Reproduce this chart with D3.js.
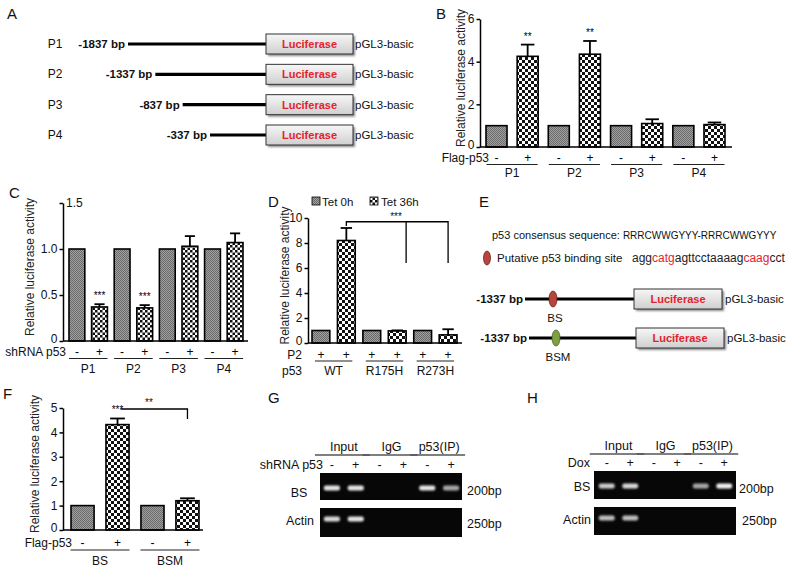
<!DOCTYPE html>
<html><head><meta charset="utf-8">
<script src="https://cdn.jsdelivr.net/npm/d3@7"></script>
<style>body{margin:0;background:#fff} svg{font-family:"Liberation Sans",Arial,Helvetica,sans-serif;display:block}</style>
</head><body><svg id="c" width="800" height="568"></svg>
<script>
// ---------------- DATA ----------------
const constructs = ["P1","P2","P3","P4"];
const constructStarts = ["-1837 bp","-1337 bp","-837 bp","-337 bp"];
const bTicks = [0,2,4,6];
const bMinus = [1,1,1,1];
const bPlus = [4.25,4.35,1.1,1.05];
const bPlusErr = [0.55,0.62,0.2,0.1];
const bSig = ["**","**","",""];
const cTicks = [0,0.5,1.0,1.5];
const cMinus = [1,1,1,1];
const cPlus = [0.37,0.36,1.03,1.07];
const cPlusErr = [0.03,0.03,0.11,0.1];
const cSig = ["***","***","",""];
const dGroups = ["WT","R175H","R273H"];
const dTicks = [0,2,4,6,8,10];
const d0h = [1,1,1];
const d36h = [8.2,0.97,0.65];
const d36Err = [1.0,0.04,0.45];
const dBracket = [9.7,6.4];      // bracket level, drop level
const fGroups = ["BS","BSM"];
const fTicks = [0,1,2,3,4,5];
const fMinus = [1,1];
const fPlus = [4.32,1.2];
const fPlusErr = [0.25,0.1];
const fBracket = [4.96,4.55];
const gelGroups = ["Input","IgG","p53(IP)"];
const gelSigns = ["-","+","-","+","-","+"];
const gBS = [0.9,0.9,0,0,0.9,0.65];
const gActin = [0.85,0.9,0,0,0,0];
const hBS = [0.8,0.85,0,0,0.65,0.95];
const hActin = [0.75,0.75,0,0,0,0];

// ---------------- SETUP ----------------
const svg = d3.select("#c");
const defs = svg.append("defs");
const pg = defs.append("pattern").attr("id","gray").attr("width",2).attr("height",2).attr("patternUnits","userSpaceOnUse");
pg.append("rect").attr("width",2).attr("height",2).attr("fill","#a0a0a0");
pg.append("rect").attr("width",1).attr("height",1).attr("fill","#6a6a6a");
pg.append("rect").attr("x",1).attr("y",1).attr("width",1).attr("height",1).attr("fill","#6a6a6a");
function checker(id,s){
  const p = defs.append("pattern").attr("id",id).attr("width",2*s).attr("height",2*s).attr("patternUnits","userSpaceOnUse");
  p.append("rect").attr("width",2*s).attr("height",2*s).attr("fill","#fff");
  p.append("rect").attr("width",s).attr("height",s).attr("fill","#111");
  p.append("rect").attr("x",s).attr("y",s).attr("width",s).attr("height",s).attr("fill","#111");
}
checker("chk",3); checker("chk2",2.5);
const lg = defs.append("linearGradient").attr("id","boxg").attr("x1",0).attr("y1",0).attr("x2",0).attr("y2",1);
lg.append("stop").attr("offset","0%").attr("stop-color","#f7f7f7");
lg.append("stop").attr("offset","100%").attr("stop-color","#cfcfcf");
const blur = defs.append("filter").attr("id","blur").attr("x","-50%").attr("y","-100%").attr("width","200%").attr("height","300%");
blur.append("feGaussianBlur").attr("stdDeviation",1.1);
const sh = defs.append("filter").attr("id","shadow").attr("x","-10%").attr("y","-30%").attr("width","130%").attr("height","180%");
sh.append("feGaussianBlur").attr("stdDeviation",1.2);

function txt(x,y,s,o={}){
  const t = svg.append("text").attr("x",x).attr("y",y).text(s)
    .attr("font-size",o.size||12).attr("text-anchor",o.anchor||"start").attr("fill",o.fill||"#111");
  if(o.weight) t.attr("font-weight",o.weight);
  return t;
}
function panelLetter(x,y,s){ txt(x,y,s,{size:15}); }

// ---------------- PANEL A ----------------
panelLetter(7,19,"A");
const aRow = d3.scalePoint().domain(constructs).range([44,135]);
const aStart = d3.scalePoint().domain(constructs).range([128,210]);
const boxX0 = 266, boxW = 87, boxH = 20;
constructs.forEach((c,i)=>{
  const y = aRow(c);
  txt(55,y+4,c,{size:12,anchor:"middle"});
  txt(aStart(c)-3,y+4,constructStarts[i],{size:11.5,anchor:"end",weight:"bold"});
  svg.append("line").attr("x1",aStart(c)).attr("x2",boxX0).attr("y1",y).attr("y2",y).attr("stroke","#000").attr("stroke-width",3.2);
  svg.append("rect").attr("x",boxX0+2).attr("y",y-boxH/2+2).attr("width",boxW).attr("height",boxH).attr("fill","#888").attr("filter","url(#shadow)");
  svg.append("rect").attr("x",boxX0).attr("y",y-boxH/2).attr("width",boxW).attr("height",boxH).attr("fill","url(#boxg)").attr("stroke","#333").attr("stroke-width",1);
  txt(boxX0+boxW/2,y+4,"Luciferase",{size:11,anchor:"middle",weight:"bold",fill:"#e3232c"});
  txt(boxX0+boxW+2,y+4,"pGL3-basic",{size:11.5});
});

// ---------------- BAR CHART HELPER ----------------
function barChart(o){
  const g = svg.append("g");
  const y = d3.scaleLinear().domain([0,o.max]).range([o.y0,o.y1]);
  const bars = [];
  o.groups.forEach((gr,i)=>{
    bars.push({key:gr+"-",grp:gr,v:o.minus[i],err:0,sig:"",fill:"url(#gray)",sign:o.signA});
    bars.push({key:gr+"+",grp:gr,v:o.plus[i],err:o.plusErr[i],sig:o.sig?o.sig[i]:"",fill:"url(#"+o.chk+")",sign:o.signB});
  });
  const x = d3.scaleBand().domain(bars.map(d=>d.key)).range(o.barRange).paddingInner(o.pad);
  const bw = x.bandwidth(), cx = k => x(k)+bw/2;
  g.selectAll("rect.bar").data(bars).join("rect").attr("class","bar")
    .attr("x",d=>x(d.key)).attr("y",d=>y(d.v)).attr("width",bw).attr("height",d=>y(0)-y(d.v))
    .attr("fill",d=>d.fill).attr("stroke","#000").attr("stroke-width",1.6);
  const eb = bars.filter(d=>d.err>0);
  g.selectAll("line.ev").data(eb).join("line").attr("class","ev")
    .attr("x1",d=>cx(d.key)).attr("x2",d=>cx(d.key)).attr("y1",d=>y(d.v)).attr("y2",d=>y(d.v+d.err))
    .attr("stroke","#000").attr("stroke-width",1.8);
  g.selectAll("line.ec").data(eb).join("line").attr("class","ec")
    .attr("x1",d=>cx(d.key)-bw*0.32).attr("x2",d=>cx(d.key)+bw*0.32).attr("y1",d=>y(d.v+d.err)).attr("y2",d=>y(d.v+d.err))
    .attr("stroke","#000").attr("stroke-width",1.8);
  g.selectAll("text.sig").data(bars.filter(d=>d.sig)).join("text").attr("class","sig")
    .attr("x",d=>cx(d.key)).attr("y",d=>y(d.v+d.err)-5).attr("text-anchor","middle").attr("font-size",10).text(d=>d.sig);
  // axes
  const ax = g.append("g").attr("transform",`translate(${o.axisX},0)`)
    .call(d3.axisLeft(y).tickValues(o.ticks).tickSize(3.5).tickPadding(2).tickSizeOuter(0).tickFormat(o.fmt||(d=>d)));
  ax.selectAll("path,line").attr("stroke","#000").attr("stroke-width",1.5);
  ax.selectAll("text").attr("font-size",12).attr("fill","#111").attr("font-family",null);
  ax.selectAll(".tick").filter(d=>d===0).select("text").attr("dy","0.15em");
  if(o.topRight){ ax.selectAll(".tick").filter(d=>d===o.max).select("text").attr("x",3).attr("text-anchor","start"); }
  g.append("line").attr("x1",o.axisX).attr("x2",o.axisX1).attr("y1",y(0)).attr("y2",y(0)).attr("stroke","#000").attr("stroke-width",1.5);
  // y label
  g.append("text").attr("transform",`translate(${o.labelX},${(o.y0+o.y1)/2-5}) rotate(-90)`)
    .attr("text-anchor","middle").attr("font-size",o.labelSize||12).attr("fill","#222").text("Relative luciferase activity");
  // rows
  txt(o.rowLabelX,o.rowY,o.rowLabel,{size:12,anchor:"end"});
  g.selectAll("text.sg").data(bars).join("text").attr("class","sg")
    .attr("x",d=>cx(d.key)).attr("y",o.rowY).attr("text-anchor","middle").attr("font-size",12).text(d=>d.sign);
  o.groups.forEach(gr=>{
    const a = cx(gr+"-")-o.ext, b = cx(gr+"+")+o.ext;
    g.append("line").attr("x1",a).attr("x2",b).attr("y1",o.lineY).attr("y2",o.lineY).attr("stroke","#222").attr("stroke-width",1.2);
    txt((a+b)/2,o.groupY,gr,{size:12,anchor:"middle"});
  });
  if(o.groupRowLabel) txt(o.rowLabelX,o.groupY,o.groupRowLabel,{size:12,anchor:"end"});
  return {x,y,cx,bw};
}

// ---------------- PANEL B ----------------
panelLetter(436,19,"B");
barChart({groups:constructs,minus:bMinus,plus:bPlus,plusErr:bPlusErr,sig:bSig,max:6,ticks:bTicks,
  y0:147,y1:19,axisX:480,axisX1:732,barRange:[486,725],pad:0.325,chk:"chk",labelX:465,
  rowLabel:"Flag-p53",rowLabelX:489,rowY:162,signA:"-",signB:"+",lineY:164.5,groupY:177,ext:10});

// ---------------- PANEL C ----------------
panelLetter(9,198,"C");
barChart({groups:constructs,minus:cMinus,plus:cPlus,plusErr:cPlusErr,sig:cSig,max:1.5,ticks:cTicks,
  fmt:d=>d===0?"0":d3.format(".1f")(d),topRight:true,
  y0:341,y1:203,axisX:63,axisX1:248,barRange:[69,243],pad:0.3,chk:"chk2",labelX:34,
  rowLabel:"shRNA p53",rowLabelX:66,rowY:356,signA:"-",signB:"+",lineY:358.5,groupY:373,ext:8});

// ---------------- PANEL D ----------------
panelLetter(268,207,"D");
const D = barChart({groups:dGroups,minus:d0h,plus:d36h,plusErr:d36Err,max:10,ticks:dTicks,
  y0:343,y1:218,axisX:308,axisX1:462,barRange:[312,457],pad:0.3,chk:"chk",labelX:289,
  rowLabel:"P2",rowLabelX:302,rowY:358.5,signA:"+",signB:"+",lineY:361,groupY:375,ext:6,groupRowLabel:"p53"});
{
  const yb = D.y(dBracket[0]), yd = D.y(dBracket[1]);
  const xl = D.cx("WT+"), xm = D.x("R175H+")+D.bw, xr = D.cx("R273H+");
  const p = `M${xl},${D.y(d36h[0]+d36Err[0])-2}V${yb}H${xr}V${yd}M${xm},${yb}V${yd}`;
  svg.append("path").attr("d",p).attr("fill","none").attr("stroke","#000").attr("stroke-width",1.3);
  txt(396,yb-2,"***",{size:10,anchor:"middle"});
  // legend
  svg.append("rect").attr("x",312).attr("y",197).attr("width",8).attr("height",8).attr("fill","url(#gray)").attr("stroke","#000").attr("stroke-width",0.8);
  txt(322,205.5,"Tet 0h",{size:11.5});
  svg.append("rect").attr("x",370).attr("y",197).attr("width",8).attr("height",8).attr("fill","url(#chk2)").attr("stroke","#000").attr("stroke-width",0.8);
  txt(381,205.5,"Tet 36h",{size:11.5});
}

// ---------------- PANEL E ----------------
panelLetter(479,207,"E");
{
  const t = txt(492,239,"p53 consensus sequence: ",{size:11});
  t.append("tspan").attr("font-size",10).text("RRRCWWGYYY-RRRCWWGYYY");
  svg.append("ellipse").attr("cx",487).attr("cy",258).attr("rx",3.5).attr("ry",7).attr("fill","#b9443c").attr("stroke","#5a1a14").attr("stroke-width",0.7);
  txt(497,262,"Putative p53 binding site",{size:11.5});
  const s = txt(632,262,"",{size:12});
  [["agg","#222"],["catg","#e3232c"],["agttcctaaaag","#222"],["caag","#e3232c"],["cct","#222"]]
    .forEach(([a,c])=>s.append("tspan").attr("fill",c).text(a));
  const eRows = [{y:299,lx:525,bx:634,ox:553,col:"#b9443c",st:"#5a1a14",lab:"BS"},
                 {y:338,lx:529,bx:636,ox:556,col:"#7fa040",st:"#3d5a1a",lab:"BSM"}];
  eRows.forEach(r=>{
    txt(r.lx-2,r.y+4,"-1337 bp",{size:11.5,anchor:"end",weight:"bold"});
    svg.append("line").attr("x1",r.lx).attr("x2",r.bx).attr("y1",r.y).attr("y2",r.y).attr("stroke","#000").attr("stroke-width",3.2);
    svg.append("ellipse").attr("cx",r.ox).attr("cy",r.y).attr("rx",4).attr("ry",8).attr("fill",r.col).attr("stroke",r.st).attr("stroke-width",0.7);
    txt(r.ox+2,r.y+23,r.lab,{size:11.5,anchor:"middle"});
    svg.append("rect").attr("x",r.bx+2).attr("y",r.y-8).attr("width",88).attr("height",20).attr("fill","#888").attr("filter","url(#shadow)");
    svg.append("rect").attr("x",r.bx).attr("y",r.y-10).attr("width",88).attr("height",20).attr("fill","url(#boxg)").attr("stroke","#333").attr("stroke-width",1);
    txt(r.bx+44,r.y+4,"Luciferase",{size:11,anchor:"middle",weight:"bold",fill:"#e3232c"});
    txt(r.bx+91,r.y+4,"pGL3-basic",{size:11.5});
  });
}

// ---------------- PANEL F ----------------
panelLetter(3,399,"F");
const Fc = barChart({groups:fGroups,minus:fMinus,plus:fPlus,plusErr:fPlusErr,max:5,ticks:fTicks,sig:["***",""],
  y0:530,y1:408,axisX:63,axisX1:203,barRange:[71,199],pad:0.34,chk:"chk",labelX:39,
  rowLabel:"Flag-p53",rowLabelX:72,rowY:547,signA:"-",signB:"+",lineY:550,groupY:565,ext:12});
{
  const yb = Fc.y(fBracket[0]), yd = Fc.y(fBracket[1]);
  const xl = Fc.cx("BS+")+3, xr = Fc.cx("BSM+");
  svg.append("path").attr("d",`M${xl},${yb}H${xr}V${yd}`).attr("fill","none").attr("stroke","#000").attr("stroke-width",1.3);
  txt((xl+xr)/2-5,yb-3,"**",{size:10,anchor:"middle"});
}

// ---------------- GELS ----------------
function gel(o){
  const x = d3.scaleBand().domain(d3.range(6)).range([o.x0,o.x1]).paddingInner(0.24).paddingOuter(0.12);
  const bw = x.bandwidth(), cx = i => x(i)+bw/2;
  gelGroups.forEach((gname,k)=>{
    const a = cx(2*k)-17, b = cx(2*k+1)+14, m = (cx(2*k)+cx(2*k+1))/2;
    txt(m,o.headY,gname,{size:12.5,anchor:"middle"});
    svg.append("line").attr("x1",a).attr("x2",b).attr("y1",o.lineY).attr("y2",o.lineY).attr("stroke","#555").attr("stroke-width",1.3);
  });
  txt(o.rowLabelX,o.signY,o.rowLabel,{size:12.5,anchor:"end"});
  svg.selectAll(null).data(gelSigns).join("text").attr("x",(d,i)=>cx(i)).attr("y",o.signY)
    .attr("text-anchor","middle").attr("font-size",12.5).attr("fill","#111").text(d=>d);
  o.rows.forEach(r=>{
    svg.append("rect").attr("x",o.gx0).attr("y",r.y0).attr("width",o.gx1-o.gx0).attr("height",r.y1-r.y0).attr("fill","#070707");
    svg.selectAll(null).data(r.vals).join("rect")
      .attr("x",(d,i)=>x(i)+1).attr("y",r.by-2.5).attr("width",bw-2).attr("height",5).attr("rx",2)
      .attr("fill","#fff").attr("opacity",d=>d).attr("filter","url(#blur)");
    txt(r.lx,r.ly,r.label,{size:12.5,anchor:"middle"});
    txt(r.sx,r.sy,r.size,{size:12.5});
  });
}
panelLetter(268,403,"G");
gel({x0:320,x1:463,gx0:320,gx1:462,headY:451,lineY:455,signY:469,rowLabel:"shRNA p53",rowLabelX:323,
  rows:[{y0:473,y1:500,by:488,vals:gBS,label:"BS",lx:299,ly:497,size:"200bp",sx:467,sy:495},
        {y0:508,y1:537,by:519,vals:gActin,label:"Actin",lx:300,ly:525,size:"250bp",sx:467,sy:528}]});
panelLetter(527,403,"H");
gel({x0:595,x1:736,gx0:594,gx1:736,headY:450,lineY:454,signY:467,rowLabel:"Dox",rowLabelX:590,
  rows:[{y0:471,y1:499,by:486,vals:hBS,label:"BS",lx:582,ly:491,size:"200bp",sx:739,sy:493},
        {y0:507,y1:535,by:518,vals:hActin,label:"Actin",lx:577,ly:524,size:"250bp",sx:742,sy:525}]});
</script></body></html>
